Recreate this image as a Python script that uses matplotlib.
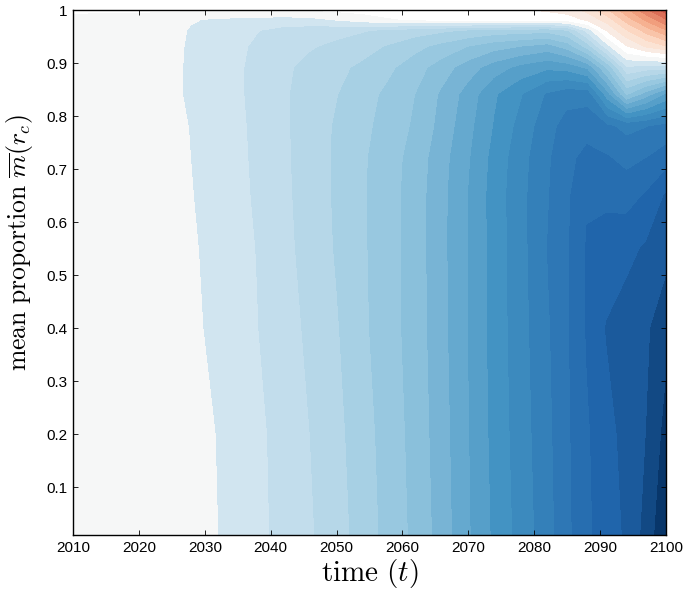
import numpy as np
import matplotlib
matplotlib.use("Agg")
import matplotlib.pyplot as plt

plt.rcParams['mathtext.fontset'] = 'cm'

# grid: time columns and proportion rows
years = [2010, 2025, 2028, 2031, 2034, 2038, 2042, 2046, 2050, 2054, 2058, 2062,
         2066, 2070, 2074, 2078, 2082, 2085, 2088, 2091, 2094, 2097, 2100]
props = [0.01, 0.2, 0.4, 0.55, 0.65, 0.72, 0.78, 0.84, 0.89, 0.93, 0.96, 0.98, 1.0]

# level (band) value at each time, one list per proportion row
z_001 = [0.3, 0.5, 0.6, 0.85, 1.25, 1.75, 2.29, 2.88, 3.57, 4.42, 5.37, 6.24,
         7.43, 8.86, 10.18, 11.38, 12.58, 13.73, 14.8, 15.48, 16.14, 17.33, 18.9]
z_020 = [0.3, 0.5, 0.6, 0.9, 1.31, 1.81, 2.31, 3.0, 3.69, 4.59, 5.44, 6.35,
         7.55, 8.93, 10.3, 11.5, 12.7, 13.8, 14.86, 15.63, 16.33, 17.0, 18.3]
z_040 = [0.3, 0.55, 0.75, 1.15, 1.5, 1.97, 2.57, 3.2, 3.9, 4.8, 5.6, 6.45,
         7.67, 9.0, 10.38, 11.6, 12.84, 13.86, 15.08, 16.06, 16.44, 16.8, 17.7]
z_055 = [0.3, 0.6, 0.85, 1.23, 1.57, 2.03, 2.7, 3.38, 4.08, 4.86, 5.59, 6.48,
         7.71, 9.0, 10.39, 11.64, 13.0, 13.86, 15.08, 15.4, 15.72, 16.12, 16.6]
z_065 = [0.3, 0.6, 0.95, 1.3, 1.63, 2.12, 2.77, 3.45, 4.13, 4.88, 5.6, 6.48,
         7.7, 9.0, 10.43, 11.69, 12.9, 13.8, 14.9, 14.8, 14.6, 15.1, 16.1]
z_072 = [0.3, 0.6, 1.0, 1.33, 1.67, 2.16, 2.81, 3.47, 4.14, 4.86, 5.55, 6.4,
         7.6, 8.87, 10.33, 11.6, 12.82, 13.7, 14.3, 14.1, 13.7, 14.0, 14.5]
z_078 = [0.3, 0.6, 1.05, 1.37, 1.7, 2.19, 2.83, 3.48, 4.1, 4.73, 5.42, 6.15,
         7.33, 8.67, 10.07, 11.33, 12.6, 13.4, 13.6, 13.2, 12.7, 12.95, 13.3]
z_084 = [0.3, 0.7, 1.2, 1.45, 1.78, 2.2, 2.87, 3.4, 3.95, 4.58, 5.25, 6.0,
         7.15, 8.4, 9.85, 10.9, 12.1, 12.6, 12.6, 9.4, 5.8, 7.4, 9.1]
z_089 = [0.3, 0.7, 1.2, 1.45, 1.75, 2.23, 2.8, 3.3, 3.75, 4.2, 4.8, 5.55,
         6.5, 7.5, 8.5, 9.3, 9.8, 9.6, 8.8, 5.8, 2.1, 2.5, 2.6]
z_093 = [0.3, 0.7, 1.15, 1.4, 1.7, 2.15, 2.6, 2.9, 3.2, 3.6, 4.1, 4.7,
         5.3, 6.0, 6.6, 7.0, 7.4, 6.5, 4.5, 1.3, -1.0, -2.2, -3.0]
z_096 = [0.3, 0.6, 1.1, 1.3, 1.55, 1.95, 2.3, 2.5, 2.7, 2.9, 3.2, 3.5,
         3.8, 4.1, 4.4, 4.5, 4.6, 4.0, 1.5, -1.2, -3.0, -4.5, -6.0]
z_098 = [0.15, 0.3, 0.9, 1.1, 1.2, 1.3, 1.4, 1.3, 0.9, 0.5, 0.1, -0.1,
         -0.2, -0.2, -0.3, -0.4, -0.4, -0.5, -1.2, -2.5, -4.5, -6.3, -8.0]
z_100 = [-0.1, -0.1, -0.1, -0.1, -0.1, -0.1, -0.1, -0.2, -0.3, -0.4, -0.5, -0.6,
         -0.7, -0.8, -0.9, -1.0, -1.2, -1.5, -2.5, -4.0, -6.0, -8.0, -9.8]

Z = np.array([z_001, z_020, z_040, z_055, z_065, z_072, z_078, z_084,
              z_089, z_093, z_096, z_098, z_100])

levels = np.arange(-10, 20)
# position on RdBu of each blue band (1..18)
blue_pos = [0.6, 0.622, 0.644, 0.666, 0.688, 0.71, 0.732, 0.754, 0.776,
            0.798, 0.82, 0.842, 0.862, 0.882, 0.9, 0.92, 0.95, 0.985]
cmap = plt.cm.RdBu
colors = []
for b in levels[:-1]:
    if b >= 1:
        colors.append(cmap(blue_pos[b - 1]))
    elif b == 0:
        colors.append(cmap(0.5))
    elif b == -1:
        colors.append('white')
    else:
        colors.append(cmap(0.46 - (-b - 2) * 0.034))

fig = plt.figure(figsize=(6.86, 5.92), dpi=100)
ax = fig.add_axes([73 / 686, 1 - 535 / 592, 593 / 686, 525 / 592])
ax.contourf(years, props, Z, levels=levels, colors=colors)

ax.set_xlim(2010, 2100)
ax.set_ylim(0.01, 1)
ax.set_xticks(np.arange(2010, 2101, 10))
ax.set_yticks(np.arange(1, 11) / 10)
ax.set_yticklabels(['0.1', '0.2', '0.3', '0.4', '0.5', '0.6', '0.7', '0.8', '0.9', '1'])
ax.tick_params(direction='in', top=True, right=True, length=3.5, width=0.6,
               labelsize=11, pad=4)
for lab in ax.get_xticklabels() + ax.get_yticklabels():
    lab.set_family('Liberation Sans')
for s in ax.spines.values():
    s.set_linewidth(1.0)

ax.set_xlabel(r'$\mathrm{time}\ (t)$', fontsize=21, labelpad=2)
ax.set_ylabel(r'$\mathrm{mean\ proportion}\ \overline{m}(r_c)$', fontsize=18.5)
ax.yaxis.set_label_coords(-0.064, 0.556)

fig.savefig('out.png', dpi=100)
